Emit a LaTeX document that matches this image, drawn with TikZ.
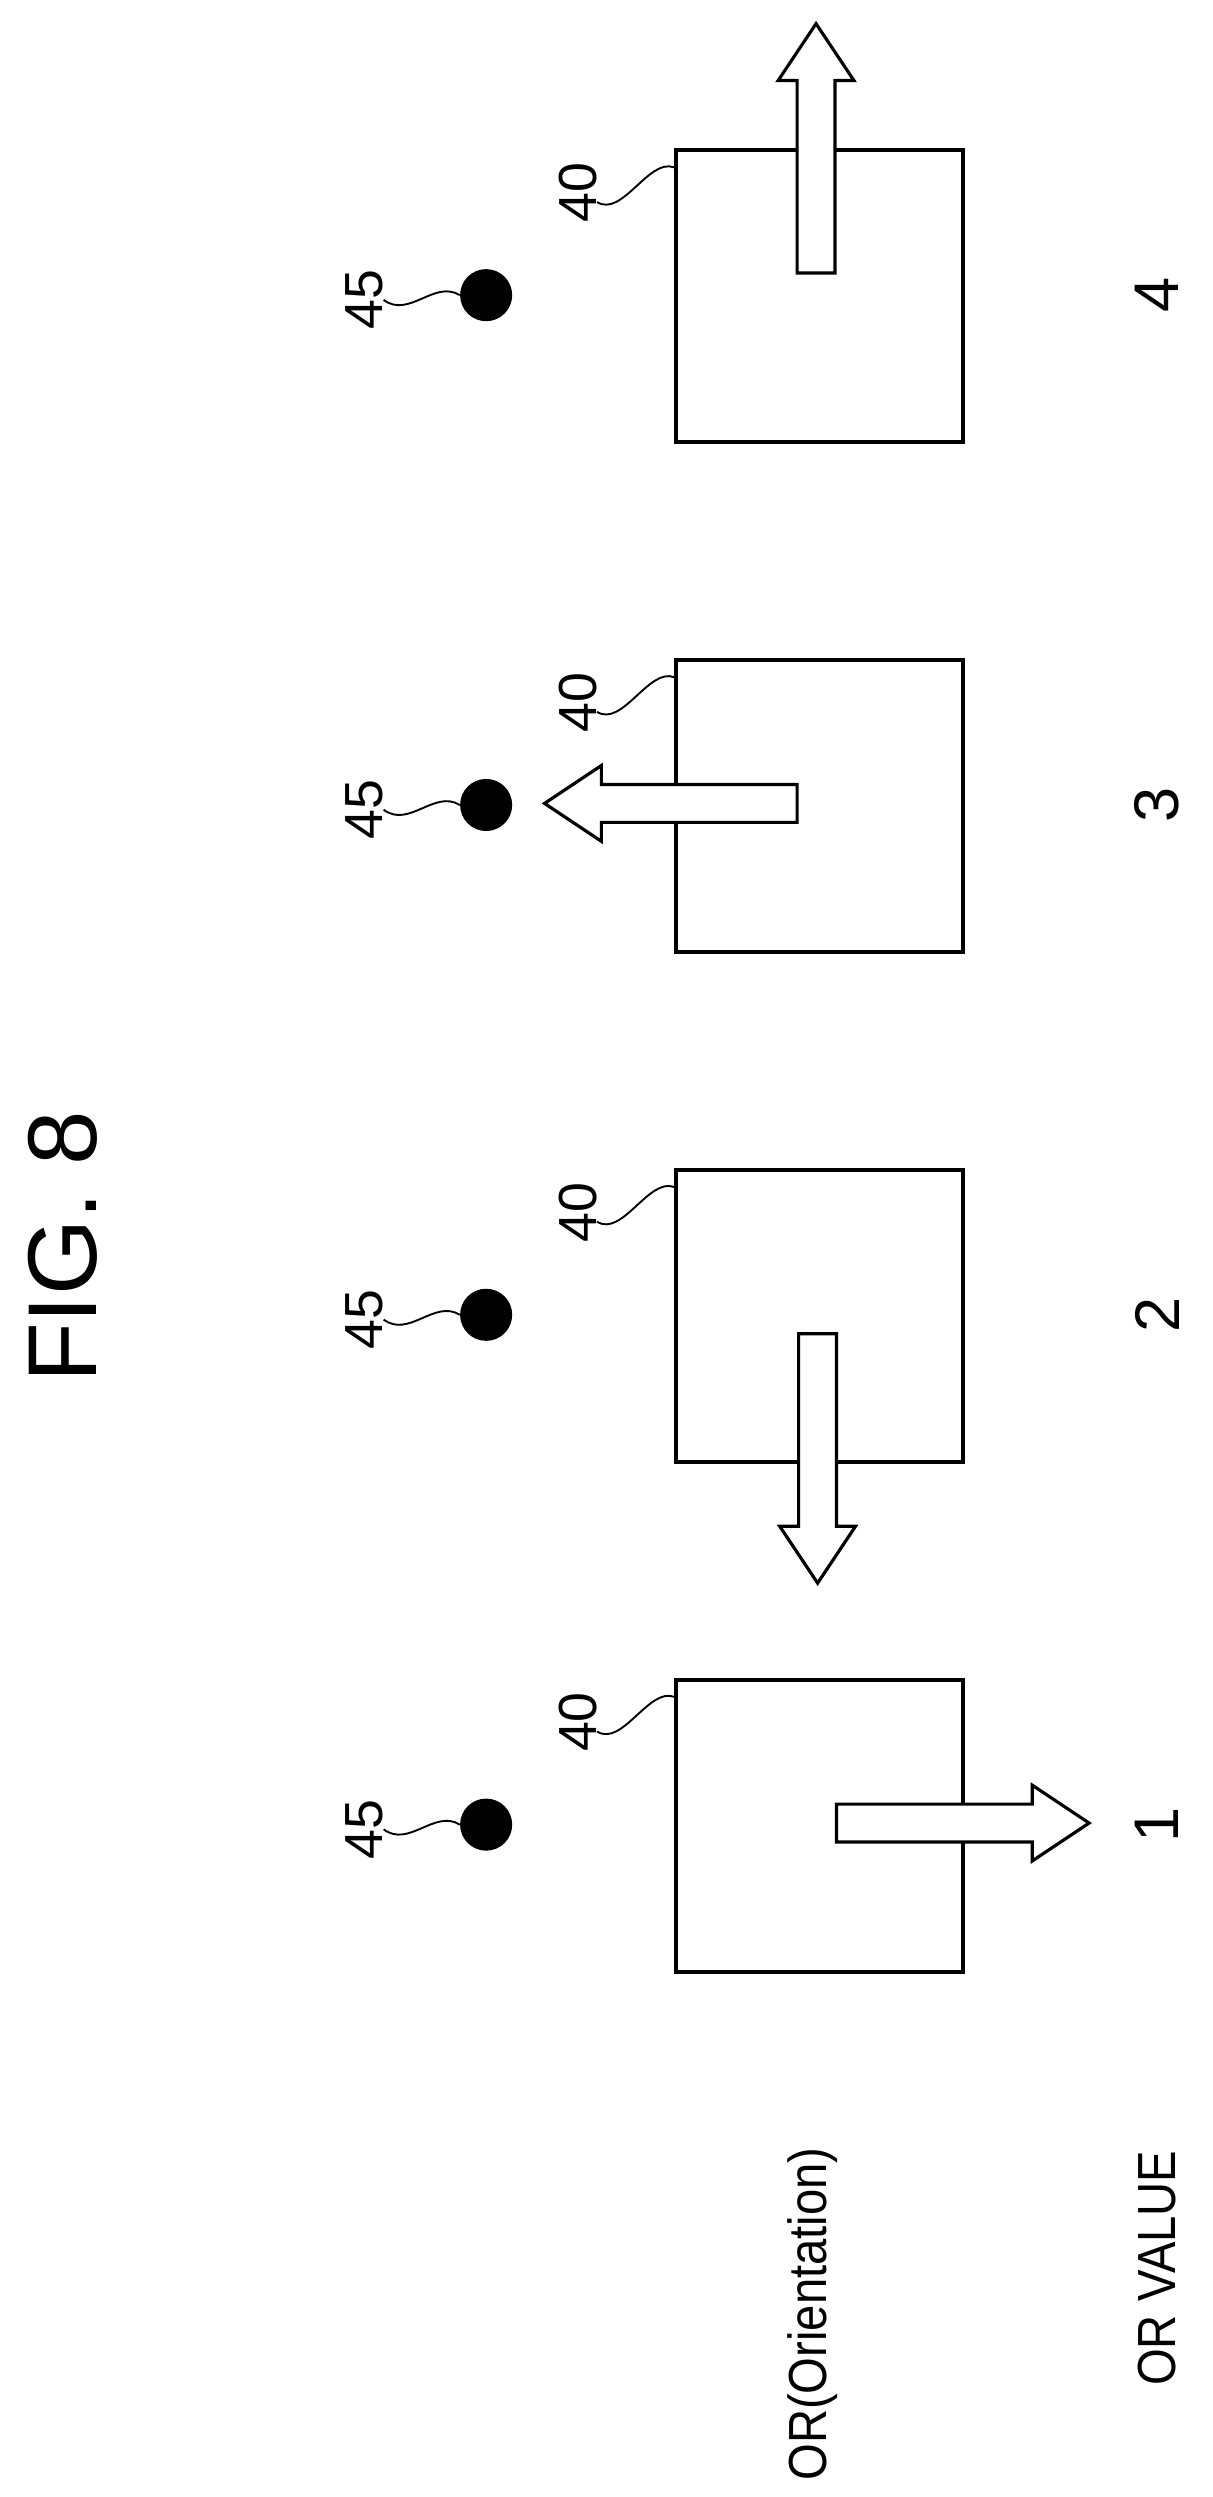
\documentclass[tikz,border=0pt]{standalone}
\usepackage{fontspec}
\setmainfont{Liberation Sans}
\newcommand{\fatarrow}[4]{% tail x, tail y, angle, length
\draw[line width=2pt,fill=white,shift={(#1,#2)},rotate=#3]
(0,-12)--(#4-36,-12)--(#4-36,-24)--(#4,0)--(#4-36,24)--(#4-36,12)--(0,12)--cycle;}
\begin{document}
\begin{tikzpicture}[x=1pt,y=1pt,
lbl/.style={rotate=90,inner sep=0pt,font=\fontsize{34}{34}\selectfont},
box/.style={draw,line width=2.5pt,minimum width=182pt,minimum height=185pt,anchor=north west,inner sep=0pt},
dot/.style={circle,fill=black,minimum size=33pt,inner sep=0pt},
lead/.style={line width=1.2pt},
]
\useasboundingbox (0,0) rectangle (768,-1582);
\node[rotate=90,font=\fontsize{62}{62}\selectfont]at(40,-790){FIG. 8};
\foreach \i/\t in {1/1063,2/740,3/417,4/94}{
\node[box](box\i)at(427,-\t){};
\node[dot](dot\i)at(308,-\t-93){};
\node[lbl](lf\i)at(231,-\t-96){45};
\node[lbl](lb\i)at(366,-\t-28){40};
\node[lbl,font=\fontsize{40}{40}\selectfont](num\i)at(733,-\t-93){\i};
\draw[lead](lf\i.south) .. controls +(16,-12) and +(-16,10) .. (dot\i.west);
\draw[lead](lb\i.south)++(0,-6) .. controls +(16,-10) and +(-16,6) .. ([yshift=-12pt]box\i.north west);
}
% arrows
\fatarrow{530}{-1155}{0}{160}
\fatarrow{518}{-845}{-90}{158}
\fatarrow{505}{-509}{180}{160}
\fatarrow{517}{-173}{90}{158}
\node[rotate=90,font=\fontsize{34}{34}\selectfont](orn)at(515,-1466){\scalebox{0.88}[1]{OR(Orientation)}};
\node[rotate=90,font=\fontsize{34}{34}\selectfont](orv)at(733,-1437){\scalebox{0.88}[1]{OR VALUE}};
\end{tikzpicture}
\end{document}
